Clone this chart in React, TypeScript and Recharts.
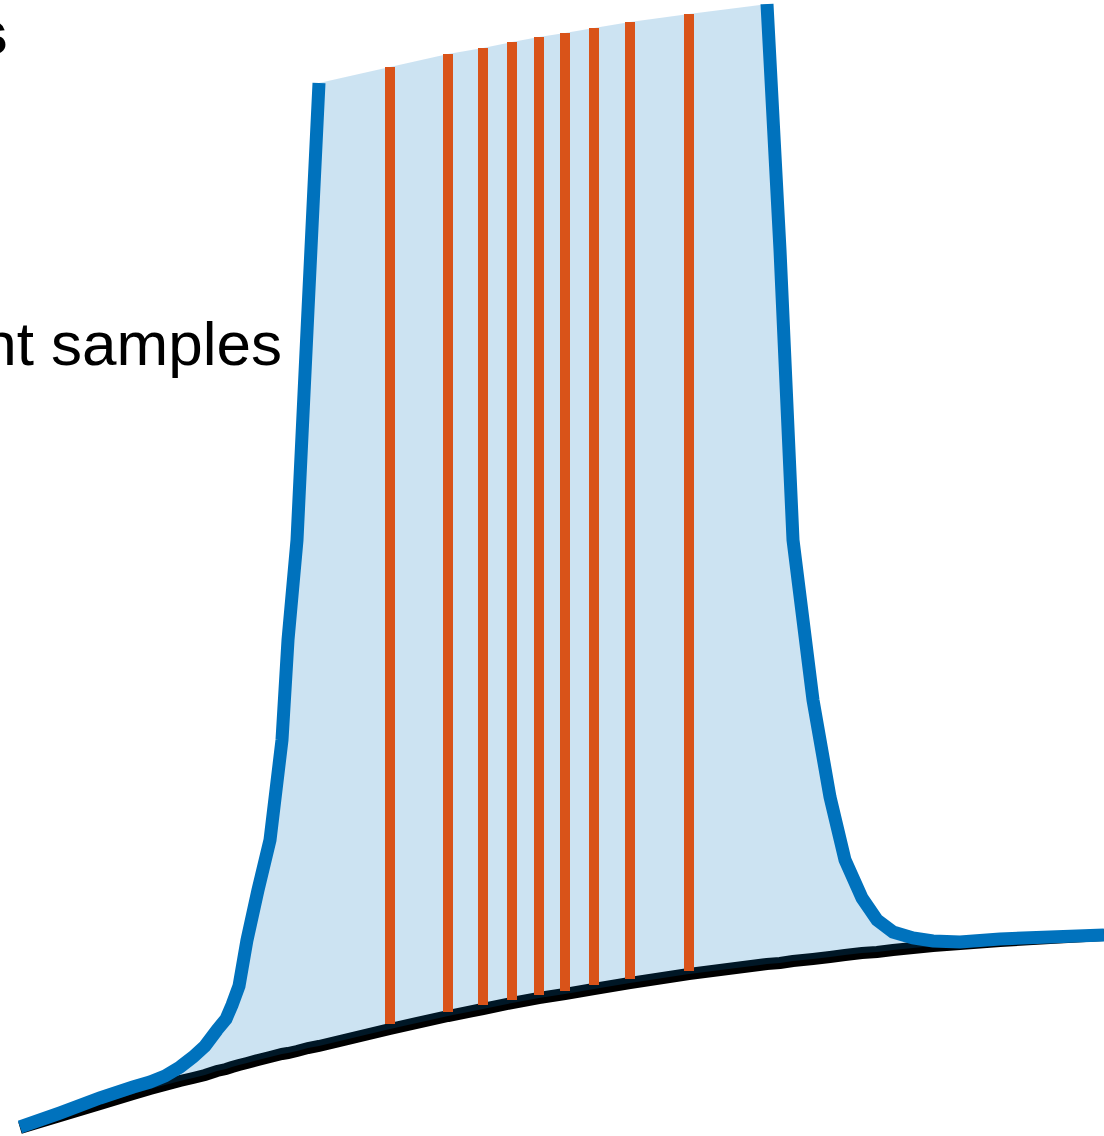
import { ComposedChart, Area, Line, XAxis, YAxis, ReferenceLine } from 'recharts';

// retention time axis (arbitrary units) for every drawn point
const TIME = [
    20, 60, 100, 133, 150, 165, 180, 193, 205, 217, 226, 232, 239, 247, 258, 270, 282, 288, 297, 308, 319,
    390, 448, 483, 512, 539, 565, 594, 630, 689,
    767, 780, 793, 813, 830, 845, 862, 877, 893, 913, 933, 960, 1000, 1050, 1104
];

// drifting baseline under the peak
const BASELINE = [
    8, 20, 32, 42, 47, 51, 55, 58, 61, 65, 67, 69, 71, 73, 76, 79, 82, 83, 85, 88, 90,
    107, 120, 127, 133, 138, 142, 147, 153, 162,
    172, 173, 175, 177, 179, 181, 183, 184, 186, 188, 190, 192, 195, 198, 201
];

// detector trace, off scale (null) across the top of the peak
const DETECTOR = [
    9, 23, 38, 49, 54, 60, 69, 79, 90, 106, 117, 131, 150, 196, 246, 296, 396, 496, 596, 826, 1053,
    null, null, null, null, null, null, null, null, null,
    1132, 886, 596, 436, 339, 276, 238, 216, 204, 198, 195, 194, 197, 199, 201
];

// sampling points across the peak
const SAMPLE_TIME = [390, 448, 483, 512, 539, 565, 594, 630, 689];
const SAMPLE_TOP = [1069, 1082, 1088, 1094, 1099, 1103, 1108, 1114, 1122];
const SAMPLE_BASE = [112, 124, 131, 136, 141, 145, 151, 157, 165];

const BLUE = '#0072bd';
const ORANGE = '#d95319';

const data = TIME.map((t, i) => {
    const s = SAMPLE_TIME.indexOf(t);
    const signal = DETECTOR[i];
    return {
        t,
        base: BASELINE[i],
        signal,
        band: [BASELINE[i], signal ?? SAMPLE_TOP[s]],
    };
});

export default function App() {
    return (
        <div style={{ position: 'absolute', left: 0, top: 0, width: 1104, height: 1136, background: '#fff' }}>
            <ComposedChart width={1104} height={1136} data={data} margin={{ top: 0, right: 0, bottom: 0, left: 0 }}>
                <XAxis type="number" dataKey="t" domain={[0, 1104]} hide />
                <YAxis type="number" domain={[0, 1136]} hide />
                <Line
                    type="linear"
                    dataKey="base"
                    stroke="#000"
                    strokeWidth={12}
                    dot={false}
                    activeDot={false}
                    isAnimationActive={false}
                    zIndex={50}
                />
                <Area
                    type="linear"
                    dataKey="band"
                    stroke="none"
                    fill={BLUE}
                    fillOpacity={0.2}
                    dot={false}
                    activeDot={false}
                    isAnimationActive={false}
                    zIndex={100}
                />
                {SAMPLE_TIME.map((t, i) => (
                    <ReferenceLine
                        key={t}
                        segment={[{ x: t, y: SAMPLE_BASE[i] }, { x: t, y: SAMPLE_TOP[i] }]}
                        stroke={ORANGE}
                        strokeWidth={10}
                        zIndex={150}
                    />
                ))}
                <Line
                    type="linear"
                    dataKey="signal"
                    stroke={BLUE}
                    strokeWidth={13}
                    dot={false}
                    activeDot={false}
                    connectNulls={false}
                    isAnimationActive={false}
                    zIndex={400}
                />
            </ComposedChart>
            <svg
                width={1104}
                height={1136}
                style={{ position: 'absolute', left: 0, top: 0, pointerEvents: 'none' }}
            >
                <text x={8} y={54} textAnchor="end" fontFamily="Liberation Sans, Arial, sans-serif" fontSize={62} fontWeight="bold">
                    s
                </text>
                <text x={282} y={365} textAnchor="end" fontFamily="Liberation Sans, Arial, sans-serif" fontSize={62}>
                    nt samples
                </text>
            </svg>
        </div>
    );
}
